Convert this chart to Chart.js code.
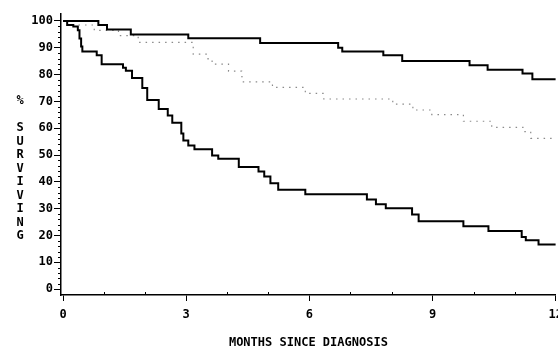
<!DOCTYPE html>
<html>
<head>
<meta charset="utf-8">
<script src="https://cdn.jsdelivr.net/npm/chart.js@4.4.1/dist/chart.umd.min.js"></script>
<style>
  html, body { margin: 0; padding: 0; background: #fff; overflow: hidden; }
  #wrap { width: 570px; height: 350px; }
</style>
</head>
<body>
<div id="wrap"><canvas id="survivalChart" width="570" height="350"></canvas></div>
<script>
// survival curves (months since diagnosis, % surviving)
const topMonths = [0, 0.86, 1.07, 1.65, 3.05, 4.8, 6.7, 6.8, 7.8, 8.26, 9.9, 10.34, 11.19, 11.43, 12];
const topSurvival = [100, 98.5, 96.8, 95, 93.6, 91.8, 90, 88.6, 87.2, 85.1, 83.5, 81.8, 80.4, 78.3, 78.3];

const midMonths = [0, 0.39, 0.76, 1.35, 1.83, 3.17, 3.53, 3.63, 4.03, 4.35, 4.39, 5.1, 5.9, 6.35, 8.03, 8.52, 8.98, 9.75, 10.44, 11.2, 11.39, 12];
const midSurvival = [100, 98.5, 96.5, 94.5, 92, 87.6, 85.9, 83.9, 81.3, 79.2, 77.3, 75.2, 73, 70.9, 69, 66.8, 65.1, 62.6, 60.3, 58.7, 56.2, 56.2];

const lowMonths = [0, 0.1, 0.25, 0.36, 0.4, 0.44, 0.47, 0.82, 0.94, 1.46, 1.53, 1.68, 1.93, 2.05, 2.33, 2.55, 2.66,
    2.88, 2.93, 3.05, 3.2, 3.63, 3.78, 4.28, 4.76, 4.9, 5.05, 5.24, 5.9, 7.4, 7.62, 7.86, 8.5, 8.66, 9.75, 10.36, 11.17, 11.27, 11.58, 12];
const lowSurvival = [100, 98.5, 97.9, 96.5, 93.5, 90.5, 88.6, 87.2, 83.9, 82.6, 81.4, 78.7, 75, 70.5, 67.2, 64.7, 62,
    58, 55.4, 53.6, 52.2, 49.8, 48.6, 45.5, 43.9, 42, 39.5, 37.1, 35.4, 33.4, 31.6, 30.2, 27.8, 25.3, 23.4, 21.7, 19.4, 18.2, 16.6, 16.6];

const xTickLabels = [0, 3, 6, 9, 12];
const yTickLabels = [0, 10, 20, 30, 40, 50, 60, 70, 80, 90, 100];
const xMinorTicks = [1, 2, 4, 5, 7, 8, 10, 11];
const yMinorTicks = [];
for (let v = 2; v < 100; v += 2) {
    if (v % 10 !== 0) yMinorTicks.push(v);
}
const yTitleLetters = ["%", "", "S", "U", "R", "V", "I", "V", "I", "N", "G"];

const monoFont = "'DejaVu Sans Mono', 'Liberation Mono', monospace";

function toPoints(months, values) {
    return months.map(function (m, i) {
        return { x: m, y: values[i] };
    });
}

const axisExtras = {
    id: "axisExtras",
    afterDraw(chart) {
        let ctx = chart.ctx;
        let x = chart.scales.x;
        let y = chart.scales.y;
        ctx.save();
        ctx.strokeStyle = "#000";
        ctx.lineWidth = 1;
        yMinorTicks.forEach(function (v) {
            let py = Math.round(y.getPixelForValue(v)) + 0.5;
            ctx.beginPath();
            ctx.moveTo(x.left - 3, py);
            ctx.lineTo(x.left, py);
            ctx.stroke();
        });
        xMinorTicks.forEach(function (v) {
            let px = Math.round(x.getPixelForValue(v)) + 0.5;
            ctx.beginPath();
            ctx.moveTo(px, y.bottom);
            ctx.lineTo(px, y.bottom - 3);
            ctx.stroke();
        });
        ctx.fillStyle = "#000";
        ctx.font = "bold 12px " + monoFont;
        ctx.textAlign = "center";
        ctx.textBaseline = "middle";
        yTitleLetters.forEach(function (ch, i) {
            ctx.fillText(ch, 20, 101 + i * 13.5);
        });
        ctx.restore();
    }
};

let ctx = document.getElementById("survivalChart").getContext("2d");
let survivalChart = new Chart(ctx, {
    type: "line",
    data: {
        datasets: [{
            label: "Top",
            data: toPoints(topMonths, topSurvival),
            borderColor: "#000",
            borderWidth: 2,
            stepped: true,
            pointRadius: 0,
            fill: false
        },
        {
            label: "Middle",
            data: toPoints(midMonths, midSurvival),
            borderColor: "#8a8a8a",
            borderWidth: 1.2,
            borderDash: [1.5, 5],
            stepped: true,
            pointRadius: 0,
            fill: false
        },
        {
            label: "Low",
            data: toPoints(lowMonths, lowSurvival),
            borderColor: "#000",
            borderWidth: 2,
            stepped: true,
            pointRadius: 0,
            fill: false
        }]
    },
    options: {
        responsive: false,
        animation: false,
        layout: { padding: { top: 14, left: 0, right: 0, bottom: 0 } },
        plugins: {
            legend: { display: false },
            tooltip: { enabled: false }
        },
        scales: {
            x: {
                type: "linear",
                min: -0.05,
                max: 12,
                afterBuildTicks: function (scale) {
                    scale.ticks = xTickLabels.map(v => ({ value: v }));
                },
                afterFit: function (scale) {
                    scale.height = 55;
                },
                grid: { display: true, drawOnChartArea: false, drawTicks: true, tickLength: 6, color: "#000", lineWidth: 1 },
                border: { display: true, color: "#000", width: 1.5 },
                ticks: {
                    color: "#000",
                    padding: 7,
                    maxRotation: 0,
                    autoSkip: false,
                    font: { family: monoFont, size: 12, weight: "bold" }
                },
                title: {
                    display: true,
                    text: "MONTHS SINCE DIAGNOSIS",
                    color: "#000",
                    padding: 0,
                    font: { family: monoFont, size: 12, weight: "bold" }
                }
            },
            y: {
                type: "linear",
                min: -2.2,
                max: 102.6,
                afterBuildTicks: function (scale) {
                    scale.ticks = yTickLabels.map(v => ({ value: v }));
                },
                afterFit: function (scale) {
                    scale.width = 61;
                },
                grid: { display: true, drawOnChartArea: false, drawTicks: true, tickLength: 7, color: "#000", lineWidth: 1 },
                border: { display: true, color: "#000", width: 1.5 },
                ticks: {
                    color: "#000",
                    padding: 1,
                    font: { family: monoFont, size: 12, weight: "bold" }
                }
            }
        }
    },
    plugins: [axisExtras]
});
</script>
</body>
</html>
